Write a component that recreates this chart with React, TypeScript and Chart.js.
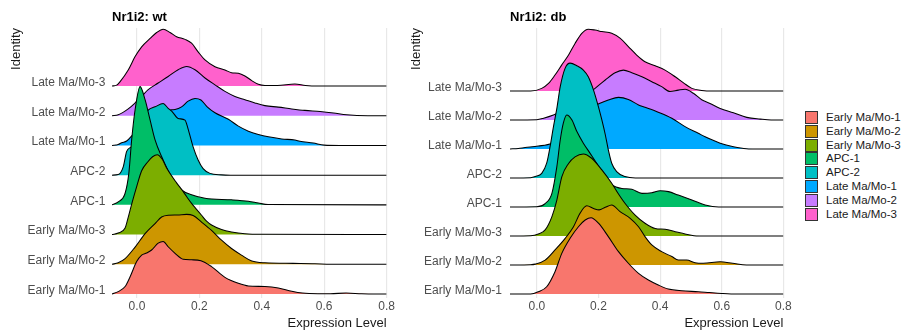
import React, { useEffect, useRef } from 'react';
import { Chart, registerables } from 'chart.js';

Chart.register(...registerables);

const FONT = '"Liberation Sans", Arial, Helvetica, sans-serif';

const categories = [
  'Early Ma/Mo-1',
  'Early Ma/Mo-2',
  'Early Ma/Mo-3',
  'APC-1',
  'APC-2',
  'Late Ma/Mo-1',
  'Late Ma/Mo-2',
  'Late Ma/Mo-3',
];
const colors = ['#F8766D', '#CD9600', '#7CAE00', '#00BE67', '#00BFC4', '#00A9FF', '#C77CFF', '#FF61CC'];
const xTicks = [0, 0.2, 0.4, 0.6, 0.8];

// ---- Nr1i2: wt  — [expression, ridge height in row units]
const wtEarly1 = [[-0.08,0],[-0.06,0.08],[-0.038,0.25],[-0.022,0.58],[-0.001,1.09],[0.015,1.31],[0.031,1.38],[0.047,1.48],[0.068,1.71],[0.084,1.77],[0.1,1.59],[0.122,1.37],[0.148,1.17],[0.175,1.15],[0.205,1.12],[0.239,0.92],[0.282,0.56],[0.325,0.36],[0.357,0.27],[0.41,0.25],[0.453,0.2],[0.496,0.09],[0.53,0.03],[0.58,0.01],[0.62,0.01],[0.67,0.03],[0.72,0.01],[0.8,0]];
const wtEarly2 = [[-0.08,0],[-0.06,0.05],[-0.038,0.19],[-0.006,0.58],[0.026,1.03],[0.058,1.37],[0.079,1.59],[0.1,1.65],[0.13,1.66],[0.159,1.68],[0.18,1.64],[0.207,1.42],[0.239,1.14],[0.271,0.81],[0.303,0.53],[0.336,0.3],[0.368,0.11],[0.41,0.05],[0.5,0.03],[0.57,0.02],[0.62,0],[0.8,0]];
const wtEarly3 = [[-0.08,0],[-0.06,0.05],[-0.038,0.22],[-0.03,0.5],[-0.015,1.1],[0.0,1.65],[0.015,2.15],[0.035,2.45],[0.05,2.62],[0.065,2.69],[0.08,2.55],[0.095,2.24],[0.127,1.74],[0.143,1.52],[0.159,1.28],[0.175,1.05],[0.191,0.85],[0.207,0.65],[0.223,0.45],[0.239,0.32],[0.271,0.17],[0.303,0.09],[0.346,0.03],[0.4,0.01],[0.8,0]];
const wtApc1 = [[-0.08,0],[-0.06,0.1],[-0.038,0.39],[-0.026,1.07],[-0.017,2.19],[-0.006,3.2],[0.01,3.98],[0.026,3.54],[0.042,2.86],[0.058,2.19],[0.08,1.6],[0.1,1.15],[0.12,0.8],[0.143,0.5],[0.175,0.34],[0.218,0.22],[0.303,0.17],[0.357,0.12],[0.389,0.06],[0.42,0.01],[0.8,0]];
const wtApc2 = [[-0.08,0],[-0.06,0.02],[-0.044,0.28],[-0.033,0.8],[-0.015,1.0],[0.0,1.5],[0.02,1.95],[0.036,2.19],[0.058,2.3],[0.084,2.41],[0.1,2.25],[0.112,2.15],[0.132,1.91],[0.154,1.85],[0.164,1.55],[0.18,0.95],[0.196,0.51],[0.212,0.22],[0.234,0.06],[0.27,0.01],[0.3,0],[0.8,0]];
const wtLate1 = [[-0.08,0],[-0.06,0.03],[-0.049,0.09],[-0.033,0.15],[-0.01,0.4],[0.02,0.75],[0.05,1.0],[0.08,1.12],[0.111,1.2],[0.122,1.21],[0.143,1.3],[0.164,1.49],[0.186,1.58],[0.205,1.53],[0.225,1.3],[0.25,1.1],[0.293,0.88],[0.325,0.65],[0.357,0.48],[0.389,0.37],[0.421,0.29],[0.464,0.22],[0.506,0.18],[0.522,0.14],[0.565,0.08],[0.6,0.01],[0.65,0],[0.8,0]];
const wtLate2 = [[-0.08,0],[-0.06,0.03],[-0.028,0.23],[-0.006,0.43],[0.015,0.65],[0.036,0.88],[0.068,1.1],[0.1,1.32],[0.132,1.55],[0.159,1.66],[0.186,1.55],[0.218,1.27],[0.25,1.04],[0.282,0.82],[0.314,0.65],[0.346,0.54],[0.378,0.43],[0.41,0.34],[0.453,0.29],[0.496,0.23],[0.538,0.18],[0.587,0.14],[0.63,0.09],[0.672,0.03],[0.74,0],[0.8,0]];
const wtLate3 = [[-0.08,0],[-0.065,0.03],[-0.054,0.15],[-0.028,0.54],[-0.006,0.99],[0.015,1.32],[0.042,1.6],[0.063,1.8],[0.084,1.91],[0.106,1.8],[0.127,1.66],[0.154,1.57],[0.175,1.44],[0.196,1.15],[0.218,0.88],[0.25,0.65],[0.282,0.54],[0.303,0.45],[0.325,0.43],[0.346,0.34],[0.368,0.18],[0.389,0.06],[0.41,0.02],[0.45,0.02],[0.506,0.07],[0.54,0.02],[0.58,0],[0.8,0]];

// ---- Nr1i2: db
const dbEarly1 = [[-0.087,0],[-0.02,0],[0.005,0.08],[0.032,0.25],[0.059,0.77],[0.081,1.4],[0.108,1.92],[0.135,2.32],[0.157,2.55],[0.176,2.63],[0.2,2.44],[0.232,1.98],[0.265,1.46],[0.297,1.06],[0.33,0.71],[0.362,0.48],[0.394,0.31],[0.427,0.17],[0.47,0.11],[0.524,0.08],[0.56,0.05],[0.6,0.02],[0.65,0],[0.8,0]];
const dbEarly2 = [[-0.087,0],[-0.02,0.01],[-0.005,0.03],[0.027,0.17],[0.059,0.52],[0.092,0.92],[0.119,1.32],[0.14,1.78],[0.162,2.04],[0.184,1.95],[0.202,1.9],[0.222,1.99],[0.243,2.07],[0.27,1.84],[0.303,1.61],[0.33,1.32],[0.351,0.98],[0.373,0.69],[0.405,0.46],[0.438,0.29],[0.459,0.17],[0.486,0.17],[0.513,0.08],[0.54,0.06],[0.595,0.11],[0.635,0.06],[0.68,0],[0.8,0]];
const dbEarly3 = [[-0.087,0],[-0.02,0.01],[0.005,0.07],[0.027,0.21],[0.049,0.67],[0.065,1.24],[0.081,2.04],[0.103,2.5],[0.124,2.73],[0.151,2.83],[0.178,2.68],[0.211,2.28],[0.243,1.82],[0.265,1.45],[0.286,1.13],[0.319,0.72],[0.351,0.44],[0.384,0.26],[0.416,0.23],[0.449,0.15],[0.481,0.07],[0.51,0.01],[0.55,0],[0.8,0]];
const dbApc1 = [[-0.087,0],[0.0,0.01],[0.027,0.12],[0.049,0.47],[0.065,1.39],[0.076,2.31],[0.086,2.89],[0.097,3.17],[0.114,3.0],[0.13,2.6],[0.151,2.2],[0.173,1.85],[0.2,1.4],[0.22,1.0],[0.243,0.76],[0.276,0.64],[0.308,0.61],[0.341,0.47],[0.373,0.49],[0.4,0.56],[0.427,0.53],[0.459,0.41],[0.503,0.24],[0.546,0.07],[0.59,0],[0.8,0]];
const dbApc2 = [[-0.087,0],[-0.02,0.01],[-0.005,0.05],[0.016,0.16],[0.032,0.51],[0.043,1.08],[0.054,1.77],[0.065,2.4],[0.076,3.15],[0.092,3.79],[0.108,3.96],[0.13,3.87],[0.151,3.72],[0.167,3.49],[0.184,3.03],[0.2,2.45],[0.211,2.0],[0.222,1.5],[0.232,0.97],[0.243,0.51],[0.259,0.22],[0.286,0.05],[0.32,0],[0.8,0]];
const dbLate1 = [[-0.087,0],[-0.06,0.02],[-0.038,0.05],[0.005,0.1],[0.049,0.2],[0.07,0.35],[0.1,0.75],[0.13,1.05],[0.16,1.3],[0.18,1.45],[0.205,1.58],[0.232,1.69],[0.265,1.78],[0.297,1.71],[0.33,1.52],[0.351,1.44],[0.394,1.27],[0.438,1.06],[0.481,0.77],[0.524,0.54],[0.546,0.42],[0.595,0.2],[0.638,0.08],[0.68,0.01],[0.72,0],[0.8,0]];
const dbLate2 = [[-0.087,0],[0.0,0.01],[0.022,0.06],[0.054,0.17],[0.08,0.3],[0.12,0.55],[0.15,0.8],[0.189,1.09],[0.222,1.38],[0.254,1.63],[0.281,1.72],[0.308,1.63],[0.341,1.49],[0.373,1.32],[0.405,1.15],[0.432,0.98],[0.459,1.03],[0.481,1.06],[0.508,0.92],[0.535,0.7],[0.56,0.58],[0.595,0.4],[0.638,0.25],[0.681,0.09],[0.725,0.03],[0.76,0],[0.8,0]];
const dbLate3 = [[-0.087,0],[-0.02,0],[0.016,0.09],[0.038,0.26],[0.059,0.55],[0.081,0.9],[0.103,1.24],[0.124,1.64],[0.146,1.99],[0.167,2.13],[0.189,2.1],[0.211,2.05],[0.243,1.99],[0.27,1.82],[0.297,1.53],[0.324,1.24],[0.351,1.01],[0.384,0.87],[0.416,0.72],[0.449,0.49],[0.476,0.28],[0.503,0.09],[0.535,0.02],[0.57,0],[0.8,0]];

const wtSeries = [wtEarly1, wtEarly2, wtEarly3, wtApc1, wtApc2, wtLate1, wtLate2, wtLate3];
const dbSeries = [dbEarly1, dbEarly2, dbEarly3, dbApc1, dbApc2, dbLate1, dbLate2, dbLate3];

type RidgeProps = {
  title: string;
  series: number[][][];
  left: number;
  xMin: number;
  yMin: number;
  yMax: number;
  yWidth: number;
  tickPad: number;
  padRight: number;
};

function RidgeChart(p: RidgeProps) {
  const ref = useRef<HTMLCanvasElement | null>(null);
  useEffect(() => {
    if (!ref.current) return;
    const datasets = p.series.map((pts, i) => ({
      label: categories[i],
      data: pts.map(([x, h]) => ({ x, y: i + h })),
      borderColor: '#000000',
      borderWidth: 1.05,
      backgroundColor: colors[i],
      fill: { value: i },
      pointRadius: 0,
      pointHitRadius: 0,
      cubicInterpolationMode: 'monotone' as const,
    }));
    const chart = new Chart(ref.current, {
      type: 'line',
      data: { datasets },
      options: {
        responsive: false,
        animation: false,
        events: [],
        layout: { padding: { left: 0, right: p.padRight, top: 0, bottom: 0 } },
        plugins: {
          legend: { display: false },
          tooltip: { enabled: false },
          title: {
            display: true,
            text: p.title,
            align: 'start',
            fullSize: false,
            color: '#000000',
            font: { family: FONT, size: 13, weight: 'bold', lineHeight: 1.2 },
            padding: { top: 9.5, bottom: 2.9 },
          },
        },
        scales: {
          x: {
            type: 'linear',
            min: p.xMin,
            max: 0.8,
            afterBuildTicks: (s: any) => {
              s.ticks = xTicks.map((v) => ({ value: v }));
            },
            afterFit: (s: any) => {
              s.height = 37;
            },
            grid: { color: '#E8E8E8', lineWidth: 1.2, drawTicks: false },
            border: { display: false },
            ticks: {
              padding: 1,
              color: '#4D4D4D',
              autoSkip: false,
              maxRotation: 0,
              font: { family: FONT, size: 12 },
              callback: (v: any) => Number(v).toFixed(1),
            },
            title: {
              display: true,
              text: 'Expression Level',
              align: 'end',
              color: '#1A1A1A',
              font: { family: FONT, size: 13, lineHeight: 1.2 },
              padding: { top: 0, bottom: 4 },
            },
          },
          y: {
            type: 'linear',
            min: p.yMin,
            max: p.yMax,
            afterBuildTicks: (s: any) => {
              s.ticks = categories.map((_, i) => ({ value: i }));
            },
            afterFit: (s: any) => {
              s.width = p.yWidth;
            },
            grid: { display: false, drawTicks: false },
            border: { display: false },
            ticks: {
              padding: p.tickPad,
              labelOffset: -3.5,
              color: '#4D4D4D',
              autoSkip: false,
              font: { family: FONT, size: 12 },
              callback: (v: any) => categories[Math.round(Number(v))] ?? '',
            },
            title: {
              display: true,
              text: 'Identity',
              align: 'end',
              color: '#1A1A1A',
              font: { family: FONT, size: 13, lineHeight: 1.2 },
              padding: { top: 9, bottom: 0 },
            },
          },
        },
      },
    } as any);
    return () => chart.destroy();
  }, []);
  return (
    <canvas
      ref={ref}
      width={400}
      height={335}
      style={{ position: 'absolute', left: p.left, top: 0, width: 400, height: 335, display: 'block' }}
    />
  );
}

export default function App() {
  return (
    <div
      style={{
        position: 'absolute',
        left: 0,
        top: 0,
        width: 911,
        height: 335,
        background: '#ffffff',
        overflow: 'hidden',
        fontFamily: FONT,
      }}
    >
      <RidgeChart title="Nr1i2: wt" series={wtSeries} left={0} xMin={-0.08} yMin={-0.135} yMax={8.953} yWidth={112} tickPad={6.5} padRight={13.4} />
      <RidgeChart title="Nr1i2: db" series={dbSeries} left={400} xMin={-0.087} yMin={-0.138} yMax={9.172} yWidth={110} tickPad={8} padRight={16.6} />
      {categories.map((c, i) => (
        <div key={c} style={{ position: 'absolute', left: 805, top: 110.7 + i * 13.9, height: 13, display: 'flex', alignItems: 'center' }}>
          <span
            style={{
              display: 'inline-block',
              boxSizing: 'border-box',
              width: 13,
              height: 13,
              background: colors[i],
              border: '0.8px solid #333333',
            }}
          />
          <span style={{ marginLeft: 8, fontSize: 11.5, lineHeight: '13px', color: '#1A1A1A', whiteSpace: 'nowrap' }}>{c}</span>
        </div>
      ))}
    </div>
  );
}
